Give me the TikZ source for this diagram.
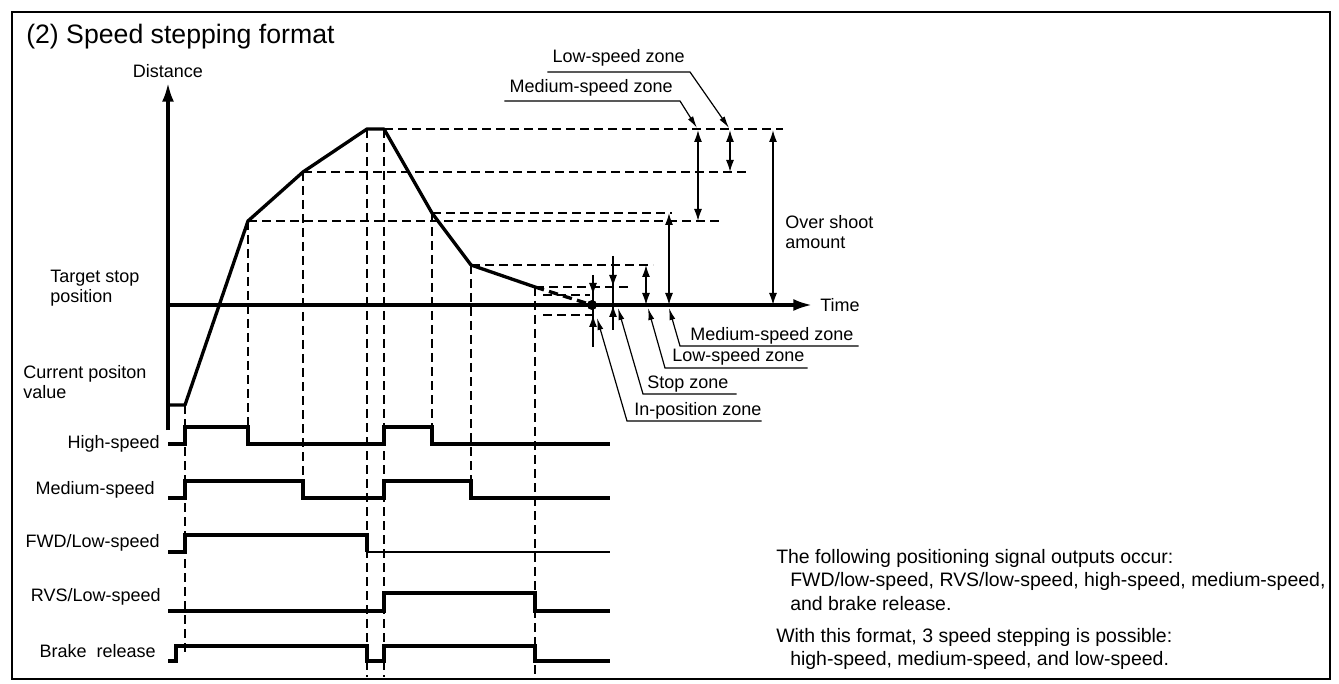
\documentclass[tikz,border=0pt]{standalone}
\usepackage{fontspec}
\setmainfont{Liberation Sans}
\usetikzlibrary{arrows.meta,calc}
\begin{document}
\begin{tikzpicture}[x=0.75pt,y=-0.75pt,
  lbl/.style={font=\fontsize{13.5}{15}\selectfont, inner sep=0pt, align=left},
  big/.style={font=\fontsize{14.6}{16.5}\selectfont, inner sep=0pt},
  sig/.style={line width=2.4pt, line join=miter},
  crv/.style={line width=2.5pt, line join=round},
  dsh/.style={line width=2.2pt, dash pattern=on 6.5pt off 4pt},
  zone/.style={line width=1.2pt, {Latex[length=9pt,width=6pt]}-{Latex[length=9pt,width=6pt]}},
  zin/.style={line width=1.2pt, -{Latex[length=9pt,width=6pt]}},
  lead/.style={line width=0.9pt, -{Latex[length=9pt,width=4.5pt]}},
  axis/.style={line width=2.4pt, -{Latex[length=14pt,width=9pt]}},
]
\useasboundingbox (0,0) rectangle (1339,684);
\draw[line width=1.6pt] (12,12) rectangle (1330,679);
\node[font=\fontsize{20}{23}\selectfont, inner sep=0pt, anchor=base west] (title) at (26,44) {(2) Speed stepping format};

% axes
\coordinate (O) at (168,430);
\coordinate (Ytop) at (168,83);
\coordinate (T0) at (168,305);
\coordinate (T1) at (812,305);
\draw[axis] (O) -- (Ytop);
\node[lbl, anchor=base] (dist) at (168,78) {Distance};
\draw[axis] (T0) -- (T1);
\node[lbl, anchor=west] (time) at (820,305) {Time};
\node[lbl, anchor=base west] (tsp) at (50,303) {Target stop\\position};
\node[lbl, anchor=base west] (cpv) at (23,398) {Current positon\\value};

% curve points
\coordinate (c0) at (168,405);
\coordinate (c1) at (185,405);
\coordinate (c2) at (248,221);
\coordinate (c3) at (303,172);
\coordinate (c4) at (367,129);
\coordinate (c5) at (384,129);
\coordinate (c6) at (432,213);
\coordinate (c7) at (471,265);
\coordinate (c8) at (535,287);
\coordinate (dot) at (592,305);

% dashed guides
\draw[dsh] (c5) -- (783,129);
\draw[dsh] (c3) -- (747,172);
\draw[dsh] (c2) -- (722,221);
\draw[dsh] (c6) -- (672,213);
\draw[dsh] (c7) -- (653,265);
\draw[dsh] (c8) -- (630,287);
\draw[dsh] (543,295) -- (590,295);
\draw[dsh] (543,315) -- (592,315);
\draw[dsh] (c1) -- (185,655);
\draw[dsh] (c2) -- (248,444);
\draw[dsh] (c3) -- (303,481);
\draw[dsh] (c4) -- (367,677);
\draw[dsh] (c5) -- (384,677);
\draw[dsh] (c6) -- (432,427);
\draw[dsh] (c7) -- (471,481);
\draw[dsh] (c8) -- (535,677);

% curve
\draw[crv] (c0) -- (c1) -- (c2) -- (c3) -- (c4) -- (c5) -- (c6) -- (c7) -- (c8);
\draw[crv, dash pattern=on 7pt off 4pt] (c8) -- (dot);
\fill (dot) circle (5);

% zone arrows
\draw[zone] (698,130) -- (698,221);
\draw[zone] (730,130) -- (730,172);
\draw[zone] (773,130) -- (773,305);
\draw[zone] (669,213) -- (669,305);
\draw[zone] (646,265) -- (646,305);
\draw[line width=1.2pt] (613,256) -- (613,330);
\draw[zin] (613,262) -- (613,287);
\draw[zin] (613,328) -- (613,305);
\draw[line width=1.2pt] (593,275) -- (593,347);
\draw[zin] (593,278) -- (593,295);
\draw[zin] (593,344) -- (593,315);

% zone labels and leaders
\node[lbl, anchor=base east] (lzt) at (685,63) {Low-speed zone};
\node[lbl, anchor=base east] (mzt) at (673,93) {Medium-speed zone};
\draw[lead] ($(lzt.base west)+(-5,9)$) -- (690,72) -- (729,128);
\draw[lead] ($(mzt.base west)+(-5,8)$) -- (680,101) -- (697,128);
\node[lbl, anchor=base west] (mzb) at (690,340) {Medium-speed zone};
\node[lbl, anchor=base west] (lzb) at (672,362) {Low-speed zone};
\node[lbl, anchor=base west] (szb) at (647,388) {Stop zone};
\node[lbl, anchor=base west] (izb) at (634,415) {In-position zone};
\draw[lead] ($(mzb.base east)+(5,6)$) -- (680,346) -- (669,308);
\draw[lead] ($(lzb.base east)+(3,6)$) -- (665,368) -- (648,308);
\draw[lead] ($(szb.base east)+(8,6)$) -- (643,394) -- (618,308);
\draw[lead] ($(izb.base east)+(0,6)$) -- (627,421) -- (597,318);
\node[lbl, anchor=west] (osa) at (785,232) {Over shoot\\amount};

% signals
\node[lbl, anchor=east] (hs) at (160,444) {High-speed};
\node[lbl, anchor=east] (ms) at (155,490) {Medium-speed};
\node[lbl, anchor=east] (fwd) at (160,543) {FWD/Low-speed};
\node[lbl, anchor=east] (rvs) at (161,597) {RVS/Low-speed};
\node[lbl, anchor=east] (brk) at (156,651) {Brake\ \ release};
\draw[sig] (168,444) -- (185,444) -- (185,427) -- (248,427) -- (248,444) -- (384,444) -- (384,427) -- (432,427) -- (432,444) -- (610,444);
\draw[sig] (168,498) -- (185,498) -- (185,481) -- (303,481) -- (303,498) -- (384,498) -- (384,481) -- (471,481) -- (471,498) -- (610,498);
\draw[sig] (168,552) -- (185,552) -- (185,535) -- (367,535) -- (367,552);
\draw[line width=1.5pt] (367,552) -- (610,552);
\draw[sig] (168,611) -- (384,611) -- (384,593) -- (535,593) -- (535,611) -- (610,611);
\draw[sig] (168,661) -- (176,661) -- (176,646) -- (367,646) -- (367,661) -- (384,661) -- (384,646) -- (535,646) -- (535,661) -- (610,661);

% text block
\node[big, anchor=west] (tx1) at (776,558) {The following positioning signal outputs occur:};
\node[big, anchor=west] (tx2) at (790,581) {FWD/low-speed, RVS/low-speed, high-speed, medium-speed,};
\node[big, anchor=west] (tx3) at (790,604) {and brake release.};
\node[big, anchor=west] (tx4) at (776,637) {With this format, 3 speed stepping is possible:};
\node[big, anchor=west] (tx5) at (790,660) {high-speed, medium-speed, and low-speed.};
\end{tikzpicture}
\end{document}
